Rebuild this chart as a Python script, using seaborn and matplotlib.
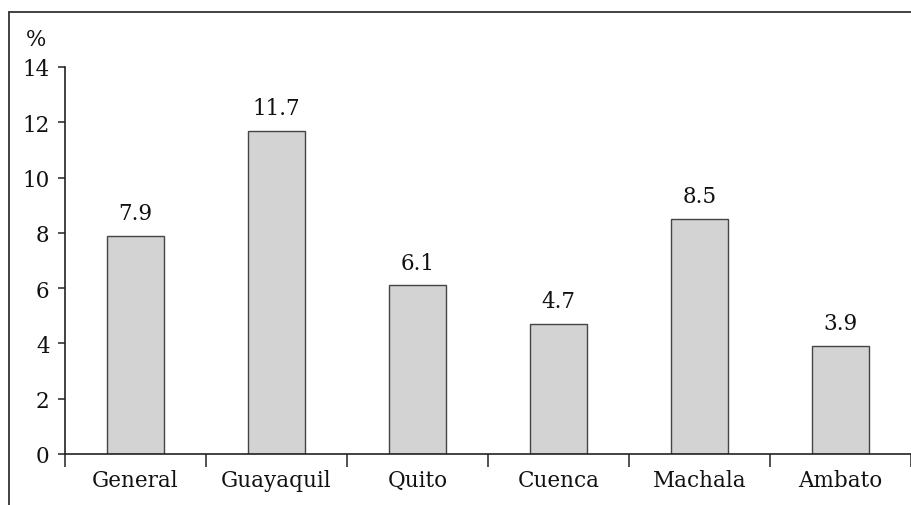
import numpy as np
import pandas as pd
import matplotlib
matplotlib.use("Agg")
import matplotlib.pyplot as plt
from matplotlib.lines import Line2D
import seaborn as sns

cities = ["General", "Guayaquil", "Quito", "Cuenca", "Machala", "Ambato"]
values = [7.9, 11.7, 6.1, 4.7, 8.5, 3.9]
yticks = [0, 2, 4, 6, 8, 10, 12, 14]

df = pd.DataFrame({"city": cities, "pct": values})

sns.set_style("white")
plt.rcParams["font.family"] = ["DejaVu Serif"]
fs = 15.5

fig = plt.figure(figsize=(9.11, 5.06), dpi=100)
ax = fig.add_axes([65 / 911, 1 - 455 / 506, 1 - 65 / 911, (455 - 68) / 506])

sns.barplot(data=df, x="city", y="pct", color="#d3d3d3", edgecolor="#444444",
            linewidth=1.0, width=0.4, saturation=1, ax=ax)

ax.set_xlim(-0.5, 5.5)
ax.set_ylim(0, 14)
ax.set_yticks(yticks)
ax.set_xlabel("")
ax.set_ylabel("")

for c in ax.containers:
    ax.bar_label(c, fmt="%.1f", padding=8.5, fontsize=fs, color="#111111")

ax.spines["top"].set_visible(False)
ax.spines["right"].set_visible(False)
ax.spines["left"].set_color("#222222")
ax.spines["bottom"].set_color("#222222")
ax.spines["left"].set_linewidth(1.2)
ax.spines["bottom"].set_linewidth(1.2)

ax.tick_params(axis="y", which="major", direction="out", length=5, width=1.1,
               color="#222222", pad=6, labelsize=fs, left=True, labelcolor="#111111")
ax.tick_params(axis="x", which="major", length=0, pad=11, labelsize=fs,
               labelcolor="#111111")
ax.set_xticks(np.arange(-0.5, 6.0, 1.0), minor=True)
ax.tick_params(axis="x", which="minor", direction="out", length=9.5, width=1.1,
               color="#222222", bottom=True)

ax.text(46 / 911, 1 - 46 / 506, "%", transform=fig.transFigure, fontsize=fs,
        ha="right", va="baseline", color="#111111")

# frame around the figure (top and left)
fig.add_artist(Line2D([9 / 911, 1.0], [1 - 13 / 506, 1 - 13 / 506],
                      transform=fig.transFigure, color="#333333", lw=1.3))
fig.add_artist(Line2D([9 / 911, 9 / 911], [0, 1 - 13 / 506],
                      transform=fig.transFigure, color="#333333", lw=1.3))

fig.savefig("out.png", dpi=100)
